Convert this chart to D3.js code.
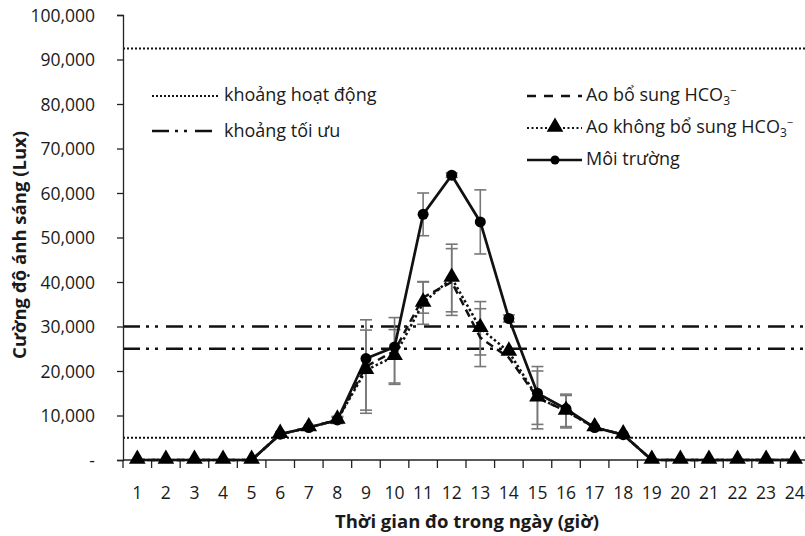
<!DOCTYPE html>
<html>
<head>
<meta charset="utf-8">
<script src="https://cdn.jsdelivr.net/npm/d3@7"></script>
<style>
body { margin: 0; background: #fff; }
text { font-family: "Open Sans", "Noto Sans", sans-serif; fill: #1a1a1a; }
</style>
</head>
<body>
<script>
var width = 805;
var height = 536;

// hours of the day
var hours = d3.range(1, 25);
var yTicks = [0, 10000, 20000, 30000, 40000, 50000, 60000, 70000, 80000, 90000, 100000];

// Môi trường (ambient)
var moiTruong =    [0,0,0,0,0, 5800,7300,9000,22800,25400,55200,64000,53500,31800,15000,11500,7300,5700, 0,0,0,0,0,0];
var moiTruongErr = [0,0,0,0,0, 0,0,0,0,0,4800,500,7200,800,0,0,0,0, 0,0,0,0,0,0];
// Ao bổ sung HCO3-
var aoBoSung =     [0,0,0,0,0, 5800,7300,9000,21000,24500,36500,40000,27500,23000,14000,11000,7300,5700, 0,0,0,0,0,0];
var aoBoSungErr =  [0,0,0,0,0, 0,0,800,10500,7500,3500,7500,6500,0,7000,3500,0,0, 0,0,0,0,0,0];
// Ao không bổ sung HCO3-
var aoKhong =      [0,0,0,0,0, 5800,7300,9000,20200,23300,35300,40900,29600,24300,14000,11000,7300,5700, 0,0,0,0,0,0];
var aoKhongErr =   [0,0,0,0,0, 0,0,600,9000,6000,4800,7600,6000,0,6000,3800,0,0, 0,0,0,0,0,0];

// reference ranges
var hoatDong = [5000, 92500];
var toiUu = [25000, 30000];

var mLeft = 123, mRight = 809, mTop = 15, mBottom = 460;

var svg = d3.select("body").append("svg")
	.attr("width", width)
	.attr("height", height);

var x = d3.scaleBand().domain(hours).range([mLeft, mRight]);
var y = d3.scaleLinear().domain([0, 100000]).range([mBottom, mTop]);
var cx = function(h){ return x(h) + x.bandwidth()/2; };

// reference lines
hoatDong.forEach(function(v){
	svg.append("line")
		.attr("x1", mLeft).attr("x2", width)
		.attr("y1", y(v)).attr("y2", y(v))
		.attr("stroke", "#111").attr("stroke-width", 2)
		.attr("stroke-dasharray", "2,2");
});
toiUu.forEach(function(v){
	svg.append("line")
		.attr("x1", mLeft).attr("x2", width)
		.attr("y1", y(v)).attr("y2", y(v))
		.attr("stroke", "#111").attr("stroke-width", 2.5)
		.attr("stroke-dasharray", "17,6,3,6,3,8");
});

// axes
var fmt = function(d){ return d === 0 ? "-" : d3.format(",")(d); };
var yAxis = svg.append("g")
	.attr("transform", "translate(" + mLeft + ",0)")
	.call(d3.axisLeft(y).tickValues(yTicks).tickFormat(fmt).tickSize(6).tickPadding(22));
yAxis.selectAll("text").style("font-size", "17.5px").attr("dy", "0.36em")
	.style("font-family", "'Open Sans', sans-serif").style("fill", "#1a1a1a");
yAxis.selectAll("line,path").attr("stroke", "#222").attr("stroke-width", 1.3);

var xAxisG = svg.append("g").attr("transform", "translate(0," + mBottom + ")");
xAxisG.append("line")
	.attr("x1", mLeft).attr("x2", width)
	.attr("stroke", "#222").attr("stroke-width", 1.3);
xAxisG.selectAll(".tk")
	.data(hours)
	.enter().append("line")
	.attr("x1", function(d){ return x(d); })
	.attr("x2", function(d){ return x(d); })
	.attr("y1", 0).attr("y2", 8)
	.attr("stroke", "#222").attr("stroke-width", 1.3);
xAxisG.selectAll(".lb")
	.data(hours)
	.enter().append("text")
	.attr("x", function(d){ return cx(d); })
	.attr("y", 39)
	.attr("text-anchor", "middle")
	.style("font-size", "17.5px")
	.text(function(d){ return d; });

// axis titles
svg.append("text")
	.attr("transform", "translate(26,245) rotate(-90)")
	.attr("text-anchor", "middle")
	.style("font-size", "18.5px").style("font-weight", "bold")
	.text("Cường độ ánh sáng (Lux)");
svg.append("text")
	.attr("x", 467).attr("y", 528)
	.attr("text-anchor", "middle")
	.style("font-size", "18.5px").style("font-weight", "bold")
	.text("Thời gian đo trong ngày (giờ)");

// error bars
function errorBars(vals, errs){
	var g = svg.append("g").attr("stroke", "#777").attr("stroke-width", 1.6);
	hours.forEach(function(h, i){
		if (!errs[i]) return;
		var x0 = cx(h);
		var y1 = y(vals[i] + errs[i]), y2 = y(vals[i] - errs[i]);
		g.append("line").attr("x1", x0).attr("x2", x0).attr("y1", y1).attr("y2", y2);
		g.append("line").attr("x1", x0-6).attr("x2", x0+6).attr("y1", y1).attr("y2", y1);
		g.append("line").attr("x1", x0-6).attr("x2", x0+6).attr("y1", y2).attr("y2", y2);
	});
}
errorBars(moiTruong, moiTruongErr);
errorBars(aoBoSung, aoBoSungErr);
errorBars(aoKhong, aoKhongErr);

var line = d3.line()
	.x(function(d, i){ return cx(hours[i]); })
	.y(function(d){ return y(d); });

svg.append("path").datum(aoBoSung)
	.attr("d", line).attr("fill", "none")
	.attr("stroke", "#111").attr("stroke-width", 2.5)
	.attr("stroke-dasharray", "8,5");
svg.append("path").datum(aoKhong)
	.attr("d", line).attr("fill", "none")
	.attr("stroke", "#111").attr("stroke-width", 2.5)
	.attr("stroke-dasharray", "2.5,2.5");
svg.append("path").datum(moiTruong)
	.attr("d", line).attr("fill", "none")
	.attr("stroke", "#111").attr("stroke-width", 2.7);

var tri = d3.symbol().type(d3.symbolTriangle).size(120);
svg.selectAll(".tri")
	.data(aoKhong)
	.enter().append("path")
	.attr("d", tri)
	.attr("transform", function(d, i){ return "translate(" + cx(hours[i]) + "," + (y(d) - 1) + ")"; })
	.attr("fill", "#000");
svg.selectAll(".dot")
	.data(moiTruong)
	.enter().append("circle")
	.attr("cx", function(d, i){ return cx(hours[i]); })
	.attr("cy", function(d){ return y(d); })
	.attr("r", function(d){ return d > 0 ? 5.5 : 0; })
	.attr("fill", "#000");

// legends
function legendText(xp, yp, txt, chem){
	var t = svg.append("text").attr("x", xp).attr("y", yp).attr("dy", "0.35em").style("font-size", "18px");
	t.append("tspan").text(txt);
	if (chem) {
		t.append("tspan").text("3").style("font-size", "12px").attr("dy", 4);
		t.append("tspan").text("\u2212").style("font-size", "11px").attr("dy", -11);
	}
}
svg.append("line").attr("x1", 152).attr("x2", 218).attr("y1", 96).attr("y2", 96)
	.attr("stroke", "#111").attr("stroke-width", 2).attr("stroke-dasharray", "2,2");
legendText(224, 95, "khoảng hoạt động");
svg.append("line").attr("x1", 152).attr("x2", 215).attr("y1", 131).attr("y2", 131)
	.attr("stroke", "#111").attr("stroke-width", 2.5).attr("stroke-dasharray", "17,6,3,6,3,8");
legendText(224, 131, "khoảng tối ưu");

svg.append("line").attr("x1", 527).attr("x2", 582).attr("y1", 96).attr("y2", 96)
	.attr("stroke", "#111").attr("stroke-width", 2.5).attr("stroke-dasharray", "9,8");
legendText(586, 95, "Ao bổ sung HCO", true);
svg.append("line").attr("x1", 527).attr("x2", 582).attr("y1", 128).attr("y2", 128)
	.attr("stroke", "#111").attr("stroke-width", 2).attr("stroke-dasharray", "2,2.5");
svg.append("path").attr("d", tri).attr("transform", "translate(555,127)").attr("fill", "#000");
legendText(586, 127, "Ao không bổ sung HCO", true);
svg.append("line").attr("x1", 527).attr("x2", 582).attr("y1", 160).attr("y2", 160)
	.attr("stroke", "#111").attr("stroke-width", 2.5);
svg.append("circle").attr("cx", 555).attr("cy", 160).attr("r", 4.5).attr("fill", "#000");
legendText(586, 159, "Môi trường");
</script>
</body>
</html>
